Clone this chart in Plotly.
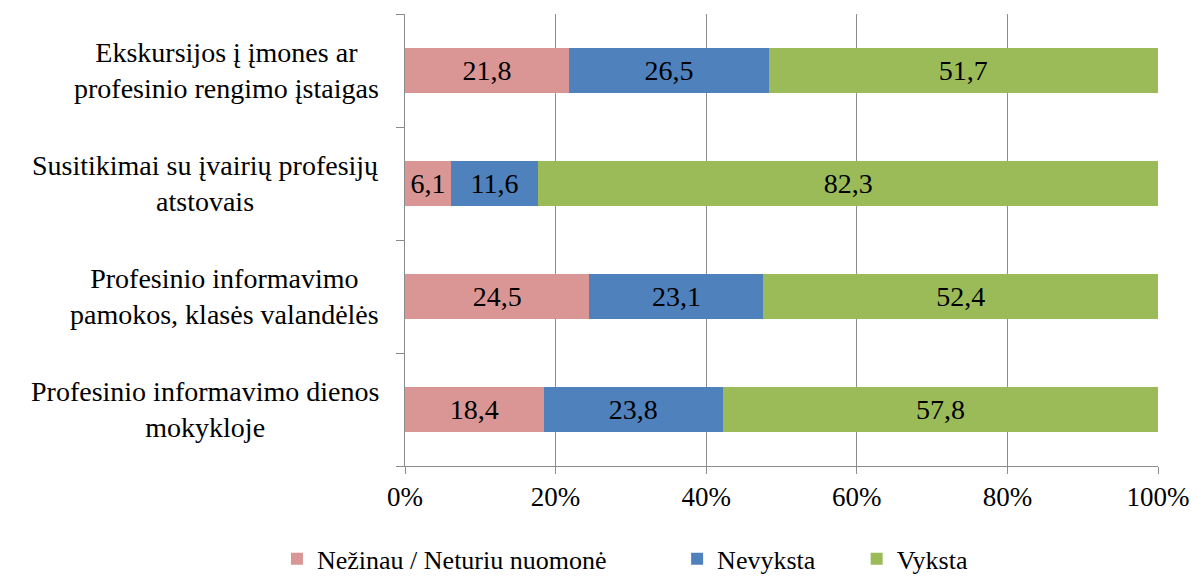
import plotly.graph_objects as go

categories = [
    "Ekskursijos į įmones ar<br>profesinio rengimo įstaigas",
    "Susitikimai su įvairių profesijų<br>atstovais",
    "Profesinio informavimo<br>pamokos, klasės valandėlės",
    "Profesinio informavimo dienos<br>mokykloje",
]
series_names = ["Nežinau / Neturiu nuomonė", "Nevyksta", "Vyksta"]
nezinau = [21.8, 6.1, 24.5, 18.4]
nevyksta = [26.5, 11.6, 23.1, 23.8]
vyksta = [51.7, 82.3, 52.4, 57.8]
x_ticks = [0, 20, 40, 60, 80, 100]
x_tick_labels = ["0%", "20%", "40%", "60%", "80%", "100%"]

colors = ["#D99694", "#4F81BD", "#9BBB59"]
FONT = "'Liberation Serif', 'Times New Roman', serif"
legend_ids = ["legend", "legend2", "legend3"]
legend_x = [0.2247, 0.559, 0.709]

fig = go.Figure()
for name, vals, col, lid in zip(series_names, [nezinau, nevyksta, vyksta], colors, legend_ids):
    fig.add_trace(go.Bar(
        y=categories, x=vals, name=name, orientation="h",
        marker=dict(color=col, line=dict(width=0)),
        text=[f"{v:.1f}".replace(".", ",") for v in vals],
        textposition="inside", insidetextanchor="middle",
        textfont=dict(family=FONT, size=28, color="black"),
        hoverinfo="skip", legend=lid,
    ))

for c in categories:
    fig.add_annotation(
        x=0, y=c, xref="paper", yref="y", text=c, showarrow=False,
        xanchor="right", yanchor="middle", align="center", xshift=-24,
        font=dict(family=FONT, size=28, color="black"),
    )

legend_common = dict(
    orientation="h", xanchor="left", yanchor="middle",
    xref="container", yref="container", y=0.047,
    font=dict(family=FONT, size=26, color="black"),
    bgcolor="rgba(0,0,0,0)",
)
layout_legends = {lid: dict(legend_common, x=lx) for lid, lx in zip(legend_ids, legend_x)}

fig.update_layout(
    width=1197, height=578,
    margin=dict(l=397, r=47, t=6, b=120),
    barmode="stack", bargap=0.61,
    plot_bgcolor="white", paper_bgcolor="white",
    font=dict(family=FONT, size=28, color="black"),
    showlegend=True,
    **layout_legends,
)
fig.update_xaxes(
    range=[0, 100], tickvals=x_ticks, ticktext=x_tick_labels,
    showgrid=True, gridcolor="#8C8C8C", gridwidth=1,
    showline=True, linecolor="#8C8C8C", linewidth=1,
    ticks="outside", ticklen=7, tickcolor="#8C8C8C",
    tickfont=dict(family=FONT, size=27, color="black"),
    zeroline=False,
)
fig.update_yaxes(
    categoryorder="array", categoryarray=categories[::-1],
    showticklabels=False, tickson="boundaries",
    ticks="outside", ticklen=8, tickcolor="#8C8C8C",
    showline=True, linecolor="#8C8C8C", linewidth=1,
    showgrid=False, range=[-0.5, 3.5],
)

fig.write_html("out.html")
